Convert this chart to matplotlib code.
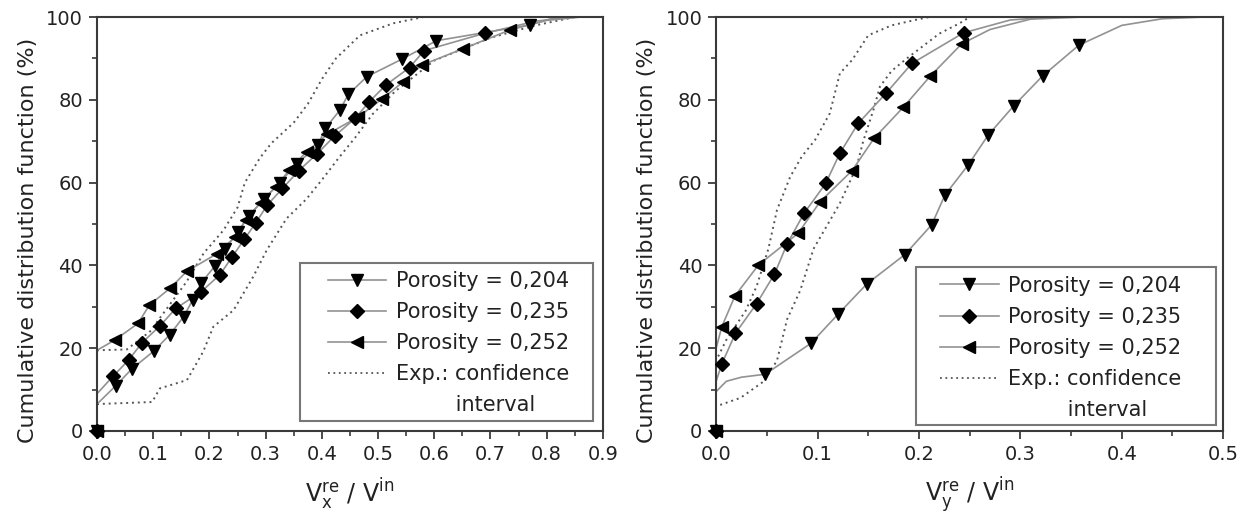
import matplotlib
matplotlib.use('Agg')
import matplotlib.pyplot as plt
from matplotlib.lines import Line2D
from matplotlib.patches import Rectangle
from matplotlib.ticker import MultipleLocator, FormatStrFormatter

labels = ["Porosity = 0,204", "Porosity = 0,235", "Porosity = 0,252"]
conf_label = "Exp.: confidence"
conf_label2 = "         interval"

# ---- left panel: Vx ----
vx_204_x = [0, 0.033, 0.062, 0.101, 0.129, 0.154, 0.170, 0.185, 0.210, 0.228, 0.250, 0.270,
            0.297, 0.325, 0.355, 0.393, 0.406, 0.432, 0.447, 0.480, 0.542, 0.604, 0.770]
vx_204_y = [0, 10.9, 15.0, 19.3, 23.2, 27.6, 31.6, 35.7, 39.9, 44.0, 48.0, 52.0,
            56.0, 60.0, 64.5, 69.0, 73.1, 77.5, 81.3, 85.6, 89.8, 94.3, 98.1]
vx_204_start = 6.5
vx_204_tail_x = [0.80, 0.82]
vx_204_tail_y = [99.3, 100]

vx_235_x = [0, 0.029, 0.056, 0.080, 0.112, 0.140, 0.185, 0.219, 0.240, 0.262, 0.282,
            0.303, 0.330, 0.359, 0.391, 0.423, 0.459, 0.484, 0.514, 0.556, 0.582, 0.690]
vx_235_y = [0, 13.3, 17.1, 21.3, 25.4, 29.6, 33.6, 37.8, 42.0, 46.3, 50.2,
            54.6, 58.6, 62.9, 66.9, 71.3, 75.5, 79.5, 83.6, 87.8, 91.9, 96.1]
vx_235_start = 9
vx_235_tail_x = [0.78, 0.84]
vx_235_tail_y = [99.0, 100]

vx_252_x = [0, 0.032, 0.073, 0.093, 0.130, 0.160, 0.213, 0.245, 0.265, 0.291, 0.318,
            0.342, 0.373, 0.410, 0.465, 0.507, 0.545, 0.578, 0.652, 0.735]
vx_252_y = [0, 22.0, 26.0, 30.4, 34.5, 38.6, 42.8, 46.8, 51.0, 55.2, 59.0,
            63.0, 67.5, 71.7, 75.9, 80.2, 84.4, 88.4, 92.4, 96.9]
vx_252_start = 19.5
vx_252_tail_x = [0.80, 0.86]
vx_252_tail_y = [99.2, 100]

vx_conf_lo_x = [0, 0.098, 0.112, 0.160, 0.189, 0.207, 0.243, 0.278, 0.302, 0.337, 0.373,
                0.402, 0.429, 0.46, 0.49, 0.53, 0.60, 0.70, 0.78, 0.85]
vx_conf_lo_y = [6.5, 7.0, 10.3, 12.3, 19.2, 25.2, 29.2, 37.3, 43.7, 51.3, 56.1,
                61.0, 65.8, 71.0, 76.5, 82.0, 89.5, 95.0, 98.0, 100]
vx_conf_hi_x = [0, 0.053, 0.094, 0.159, 0.190, 0.225, 0.250, 0.263, 0.290, 0.310, 0.350,
                0.375, 0.400, 0.425, 0.468, 0.527, 0.580]
vx_conf_hi_y = [19.5, 19.7, 24.0, 36.0, 43.0, 48.5, 54.0, 60.0, 66.0, 69.5, 74.5,
                79.0, 85.0, 90.0, 95.6, 98.5, 100]

# ---- right panel: Vy ----
vy_204_x = [0, 0.0483, 0.0936, 0.1205, 0.1485, 0.186, 0.2125, 0.2256, 0.2486, 0.2683,
            0.2936, 0.322, 0.3576]
vy_204_y = [0, 13.7, 21.2, 28.3, 35.5, 42.6, 49.8, 57.0, 64.3, 71.5, 78.6, 85.8, 93.2]
vy_204_start = 9.5
vy_204_head_x = [0.01, 0.025]
vy_204_head_y = [12.0, 13.0]
vy_204_tail_x = [0.40, 0.44, 0.48]
vy_204_tail_y = [98.0, 99.6, 100]

vy_235_x = [0, 0.0056, 0.019, 0.040, 0.0575, 0.070, 0.0867, 0.108, 0.122, 0.140,
            0.1675, 0.193, 0.244]
vy_235_y = [0, 16.2, 23.6, 30.8, 37.9, 45.2, 52.6, 59.8, 67.1, 74.3, 81.6, 88.8, 96.2]
vy_235_start = 12
vy_235_tail_x = [0.29, 0.33]
vy_235_tail_y = [99.3, 100]

vy_252_x = [0, 0.0056, 0.0187, 0.0417, 0.081, 0.1025, 0.134, 0.1557, 0.1845, 0.211, 0.242]
vy_252_y = [0, 25.2, 32.7, 40.1, 47.8, 55.4, 62.9, 70.7, 78.2, 85.7, 93.5]
vy_252_start = 20
vy_252_tail_x = [0.27, 0.31, 0.36]
vy_252_tail_y = [97.0, 99.5, 100]

vy_conf_lo_x = [0.004, 0.024, 0.047, 0.060, 0.070, 0.083, 0.096, 0.122, 0.1385, 0.145,
                0.155, 0.1615, 0.173, 0.188, 0.220, 0.240, 0.250]
vy_conf_lo_y = [6.3, 8.0, 12.0, 17.0, 27.0, 34.0, 44.0, 55.0, 63.8, 70.0,
                77.5, 83.2, 87.0, 90.0, 96.0, 98.5, 100]
vy_conf_hi_x = [0.002, 0.010, 0.029, 0.040, 0.0515, 0.060, 0.073, 0.0844, 0.0975, 0.112,
                0.122, 0.134, 0.150, 0.173, 0.196, 0.210]
vy_conf_hi_y = [18.0, 22.0, 29.0, 35.0, 44.0, 53.4, 61.4, 66.3, 70.3, 76.7,
                86.4, 89.6, 95.6, 98.0, 99.3, 100]

LINE_GRAY = '#929292'
DOT_GRAY = '#555555'
SPINE = '#3a3a3a'


def draw_series(ax, xs, ys, start, tail_x, tail_y, marker, ms, head_x=(), head_y=()):
    lx = [0, 0] + list(head_x) + xs[1:] + tail_x
    ly = [0, start] + list(head_y) + ys[1:] + tail_y
    ax.plot(lx, ly, color=LINE_GRAY, lw=1.2, zorder=2)
    ax.plot(xs, ys, linestyle='none', marker=marker, ms=ms, color='black',
            mec='black', zorder=3, clip_on=False)


def style_axes(ax, xmax, xlabel):
    ax.set_xlim(0, xmax)
    ax.set_ylim(0, 100)
    ax.xaxis.set_major_locator(MultipleLocator(0.1))
    ax.xaxis.set_minor_locator(MultipleLocator(0.05))
    ax.yaxis.set_major_locator(MultipleLocator(20))
    ax.yaxis.set_minor_locator(MultipleLocator(10))
    ax.xaxis.set_major_formatter(FormatStrFormatter('%.1f'))
    ax.tick_params(which='major', direction='out', length=6, width=1.3,
                   labelsize=14, pad=4, colors=SPINE, labelcolor='#222222')
    ax.tick_params(which='minor', direction='out', length=3.5, width=1.2, colors=SPINE)
    for sp in ax.spines.values():
        sp.set_color(SPINE)
        sp.set_linewidth(1.5)
    ax.set_ylabel("Cumulative distribution function (%)", fontsize=16, color='#222222')
    ax.yaxis.set_label_coords(-0.117, 0.461)
    ax.set_xlabel(xlabel, fontsize=17, color='#222222', labelpad=9)


def add_legend(ax, box, anchor):
    x0, y0, x1, y1 = box
    ax.add_patch(Rectangle((x0, y0), x1 - x0, y1 - y0, transform=ax.transAxes,
                           facecolor='white', edgecolor='#777777', lw=1.5, zorder=4))
    handles = [
        Line2D([], [], color=LINE_GRAY, lw=1.2, marker='v', ms=9, mfc='black', mec='black'),
        Line2D([], [], color=LINE_GRAY, lw=1.2, marker='D', ms=7, mfc='black', mec='black'),
        Line2D([], [], color=LINE_GRAY, lw=1.2, marker='<', ms=9, mfc='black', mec='black'),
        Line2D([], [], color=DOT_GRAY, lw=1.3, linestyle=(0, (1, 2))),
        Line2D([], [], linestyle='none'),
    ]
    leg = ax.legend(handles, labels + [conf_label, conf_label2], loc='upper left',
                    bbox_to_anchor=anchor, borderaxespad=0, borderpad=0,
                    frameon=False, fontsize=15, handlelength=2.8,
                    handletextpad=0.45, labelspacing=0.53)
    for t in leg.get_texts():
        t.set_color('#222222')
    leg.set_zorder(5)


fig = plt.figure(figsize=(12.52, 5.18), dpi=100)
ax1 = fig.add_axes([0.0775, 0.168, 0.404, 0.799])
ax2 = fig.add_axes([0.572, 0.168, 0.405, 0.799])

# left panel
ax1.plot(vx_conf_lo_x, vx_conf_lo_y, color=DOT_GRAY, lw=1.4, linestyle=(0, (1, 2)), zorder=2)
ax1.plot(vx_conf_hi_x, vx_conf_hi_y, color=DOT_GRAY, lw=1.4, linestyle=(0, (1, 2)), zorder=2)
draw_series(ax1, vx_204_x, vx_204_y, vx_204_start, vx_204_tail_x, vx_204_tail_y, 'v', 9)
draw_series(ax1, vx_235_x, vx_235_y, vx_235_start, vx_235_tail_x, vx_235_tail_y, 'D', 7)
draw_series(ax1, vx_252_x, vx_252_y, vx_252_start, vx_252_tail_x, vx_252_tail_y, '<', 9)
style_axes(ax1, 0.9, r'$\mathregular{V_x^{re}\ /\ V^{in}}$')
add_legend(ax1, (0.401, 0.025, 0.98, 0.407), (0.4565, 0.387))

# right panel
ax2.plot(vy_conf_lo_x, vy_conf_lo_y, color=DOT_GRAY, lw=1.4, linestyle=(0, (1, 2)), zorder=2)
ax2.plot(vy_conf_hi_x, vy_conf_hi_y, color=DOT_GRAY, lw=1.4, linestyle=(0, (1, 2)), zorder=2)
draw_series(ax2, vy_204_x, vy_204_y, vy_204_start, vy_204_tail_x, vy_204_tail_y, 'v', 9,
            vy_204_head_x, vy_204_head_y)
draw_series(ax2, vy_235_x, vy_235_y, vy_235_start, vy_235_tail_x, vy_235_tail_y, 'D', 7)
draw_series(ax2, vy_252_x, vy_252_y, vy_252_start, vy_252_tail_x, vy_252_tail_y, '<', 9)
style_axes(ax2, 0.5, r'$\mathregular{V_y^{re}\ /\ V^{in}}$')
add_legend(ax2, (0.394, 0.0145, 0.986, 0.397), (0.442, 0.375))

fig.savefig('out.png', dpi=100)
